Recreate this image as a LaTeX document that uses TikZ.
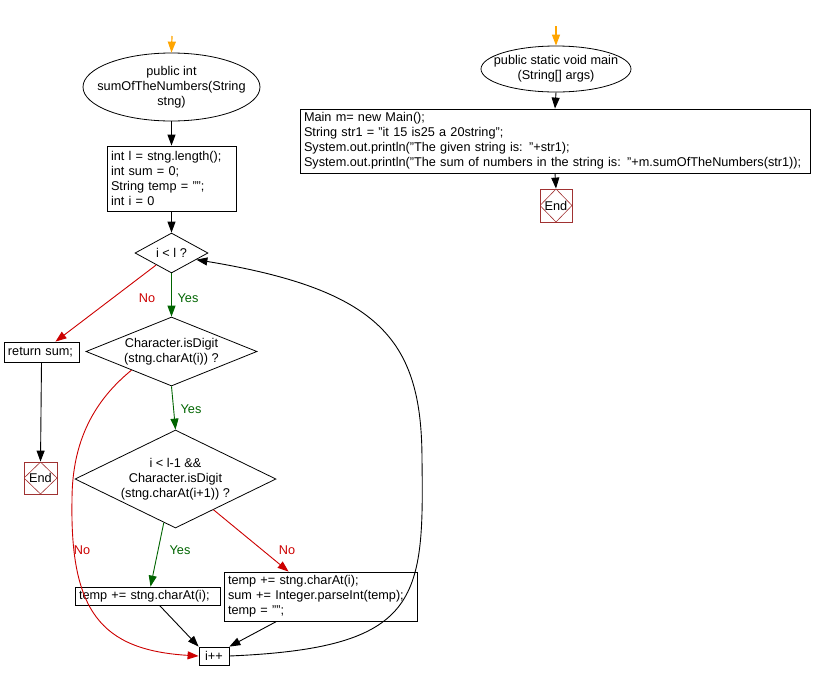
\documentclass[tikz,border=0pt]{standalone}
\usepackage{fontspec}
\setmainfont{Liberation Sans}
\usetikzlibrary{shapes.geometric,arrows.meta,calc}
\definecolor{cOrange}{RGB}{255,165,0}
\definecolor{cGreen}{RGB}{0,100,0}
\definecolor{cRed}{RGB}{204,0,0}
\definecolor{cEnd}{RGB}{160,50,50}
\tikzset{
  every node/.style={font=\fontsize{12.7}{15}\selectfont},
  arr/.style={line width=0.9pt,-{Triangle[length=11pt,width=8pt]}},
  oarr/.style={arr,line width=1.2pt,draw=cOrange,fill=cOrange},
  garr/.style={arr,draw=cGreen},
  rarr/.style={arr,draw=cRed},
  procbox/.style={draw,line width=0.8pt,inner xsep=4pt,inner ysep=0pt,align=left},
  termell/.style={draw,ellipse,line width=0.8pt,inner xsep=-14pt,inner ysep=0pt,align=center},
  decide/.style={draw,diamond,line width=0.8pt,inner sep=0pt,align=center},
  endbox/.style={draw=cEnd,line width=0.8pt,minimum width=33pt,minimum height=32pt,inner sep=0pt,
    path picture={\draw[cEnd,line width=0.6pt] (path picture bounding box.north) -- (path picture bounding box.east) -- (path picture bounding box.south) -- (path picture bounding box.west) -- cycle;}},
  ylab/.style={text=cGreen,inner sep=0pt},
  nlab/.style={text=cRed,inner sep=0pt}
}
\begin{document}
\begin{tikzpicture}[x=1pt,y=-1pt]
\useasboundingbox (0,0) rectangle (820,681);
% ---------- left: sumOfTheNumbers ----------
\coordinate (s1) at (172,36);
\node[termell,minimum width=177pt,minimum height=68pt] (e1) at (171.5,87) {public int\\sumOfTheNumbers(String\\stng)};
\node[procbox,minimum width=129pt,minimum height=65pt,text width=121pt] (b1) at (171.5,178.5)
  {int l = stng.length();\\int sum = 0;\\String temp = "";\\int i = 0};
\node[decide,minimum width=73pt,minimum height=40pt,aspect=1.8] (d1) at (171.5,253) {i < l ?};
\node[decide,minimum width=171pt,minimum height=69pt,aspect=2.5] (d2) at (171.5,351.5) {Character.isDigit\\(stng.charAt(i)) ?};
\node[decide,minimum width=201pt,minimum height=98pt,aspect=2.05] (d3) at (175.5,479) {i < l-1 \&\&\\Character.isDigit\\(stng.charAt(i+1)) ?};
\node[procbox,minimum width=75pt,minimum height=20pt,text width=67pt] (ret) at (41.5,352) {return sum;};
\node[endbox] (end1) at (40.5,478) {End};
\node[procbox,minimum width=145pt,minimum height=18pt,text width=137pt] (tmp) at (147.5,596) {temp += stng.charAt(i);};
\node[procbox,minimum width=193pt,minimum height=49pt,text width=185pt] (b2) at (320.5,596.5)
  {temp += stng.charAt(i);\\sum += Integer.parseInt(temp);\\temp = "";};
\node[procbox,minimum width=30pt,minimum height=18pt,inner xsep=0pt,align=center] (ipp) at (214,656) {i++};

\draw[oarr] (s1) -- (e1.north);
\draw[arr] (e1.south) -- (b1.north);
\draw[arr] (b1.south) -- (d1.north);
\draw[garr] (d1.south) -- (d2.north);
\draw[rarr] (d1.-142) -- ($(ret.north)+(14,0)$);
\draw[arr] (ret.south) -- (end1.north);
\draw[garr] (d2.south) -- (d3.north);
\draw[garr] (d3.-105) -- ($(tmp.north)+(3,0)$);
\draw[rarr] (d3.-39) -- ($(b2.north west)+(65,0)$);
\draw[rarr] (d2.-155) .. controls (95,400) and (72,440) .. (72,500)
  .. controls (70,610) and (100,650) .. (ipp.west);
\draw[arr] ($(tmp.south)+(12,0)$) -- (ipp.north west);
\draw[arr] ($(b2.south west)+(53,0)$) -- (ipp.north east);
\draw[arr] (ipp.east) .. controls (420,648) and (424,600) .. (422,460)
  .. controls (422,340) and (380,290) .. (d1.-15);

\node[nlab] (n1) at (147,298) {No};
\node[ylab] (y1) at (188,298) {Yes};
\node[ylab] (y2) at (191,409) {Yes};
\node[nlab] (n2) at (82,550) {No};
\node[ylab] (y3) at (180,550) {Yes};
\node[nlab] (n3) at (287,550) {No};

% ---------- right: main ----------
\coordinate (s2) at (556,26);
\node[termell,minimum width=150pt,minimum height=46pt] (e2) at (556,69) {public static void main\\(String[] args)};
\node[procbox,minimum width=510pt,minimum height=64pt,text width=502pt] (mb) at (555,141)
  {Main m= new Main();\\String str1 = "it 15 is25 a 20string";\\System.out.println("The given string is: "+str1);\\System.out.println("The sum of numbers in the string is: "+m.sumOfTheNumbers(str1));};
\node[endbox,minimum width=32pt,minimum height=33pt] (end2) at (556,205.5) {End};
\draw[oarr] (s2) -- (e2.north);
\draw[arr] (e2.south) -- (mb.north);
\draw[arr] (mb.south) -- (end2.north);
\end{tikzpicture}
\end{document}
